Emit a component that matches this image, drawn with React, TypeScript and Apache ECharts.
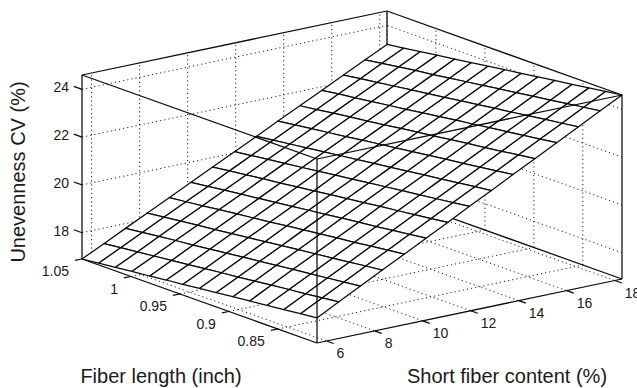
import React, { useEffect, useRef } from "react";
import * as echarts from "echarts";

// ---- data ----
const fiberLength = [0.81, 0.827, 0.844, 0.861, 0.879, 0.896, 0.913, 0.93, 0.947, 0.964, 0.981, 0.999, 1.016, 1.033, 1.05];
const shortFiber = [5.6, 6.51, 7.41, 8.32, 9.23, 10.14, 11.04, 11.95, 12.86, 13.76, 14.67, 15.58, 16.49, 17.39, 18.3];
// rows: fiberLength index, columns: shortFiber index
const unevenness = [
  [17.95, 18.43, 18.9, 19.38, 19.85, 20.33, 20.8, 21.28, 21.75, 22.23, 22.7, 23.18, 23.65, 24.13, 24.6],
  [17.88, 18.35, 18.82, 19.3, 19.77, 20.24, 20.71, 21.19, 21.66, 22.13, 22.61, 23.08, 23.55, 24.03, 24.5],
  [17.8, 18.27, 18.74, 19.21, 19.69, 20.16, 20.63, 21.1, 21.57, 22.04, 22.51, 22.99, 23.46, 23.93, 24.4],
  [17.73, 18.2, 18.66, 19.13, 19.6, 20.07, 20.54, 21.01, 21.48, 21.95, 22.42, 22.89, 23.36, 23.83, 24.3],
  [17.65, 18.12, 18.59, 19.05, 19.52, 19.99, 20.46, 20.93, 21.39, 21.86, 22.33, 22.8, 23.26, 23.73, 24.2],
  [17.58, 18.04, 18.51, 18.97, 19.44, 19.91, 20.37, 20.84, 21.3, 21.77, 22.24, 22.7, 23.17, 23.63, 24.1],
  [17.5, 17.96, 18.43, 18.89, 19.36, 19.82, 20.29, 20.75, 21.21, 21.68, 22.14, 22.61, 23.07, 23.54, 24.0],
  [17.43, 17.89, 18.35, 18.81, 19.28, 19.74, 20.2, 20.66, 21.13, 21.59, 22.05, 22.51, 22.98, 23.44, 23.9],
  [17.35, 17.81, 18.27, 18.73, 19.19, 19.65, 20.11, 20.58, 21.04, 21.5, 21.96, 22.42, 22.88, 23.34, 23.8],
  [17.28, 17.73, 18.19, 18.65, 19.11, 19.57, 20.03, 20.49, 20.95, 21.41, 21.86, 22.32, 22.78, 23.24, 23.7],
  [17.2, 17.66, 18.11, 18.57, 19.03, 19.49, 19.94, 20.4, 20.86, 21.31, 21.77, 22.23, 22.69, 23.14, 23.6],
  [17.13, 17.58, 18.04, 18.49, 18.95, 19.4, 19.86, 20.31, 20.77, 21.22, 21.68, 22.13, 22.59, 23.05, 23.5],
  [17.05, 17.5, 17.96, 18.41, 18.86, 19.32, 19.77, 20.23, 20.68, 21.13, 21.59, 22.04, 22.49, 22.95, 23.4],
  [16.98, 17.43, 17.88, 18.33, 18.78, 19.23, 19.69, 20.14, 20.59, 21.04, 21.49, 21.95, 22.4, 22.85, 23.3],
  [16.9, 17.35, 17.8, 18.25, 18.7, 19.15, 19.6, 20.05, 20.5, 20.95, 21.4, 21.85, 22.3, 22.75, 23.2],
];
const fiberTicks = [1.05, 1, 0.95, 0.9, 0.85];
const shortTicks = [6, 8, 10, 12, 14, 16, 18];
const cvTicks = [18, 20, 22, 24];
const fiberTitle = "Fiber length (inch)";
const shortTitle = "Short fiber content (%)";
const cvTitle = "Unevenness CV (%)";

// ---- layout (oblique view of the 3-D box, in view units) ----
const VIEW = { w: 637, h: 388, ox: 82, oy: 259, fdx: 235, fdy: 84, sdx: 305, sdy: -64, hdy: -184 };
const FONT = '"Liberation Sans", Arial, Helvetica, sans-serif';
const INK = "#0a0a0a";

const fMin = Math.min(...fiberLength);
const fMax = Math.max(...fiberLength);
const sMin = Math.min(...shortFiber);
const sMax = Math.max(...shortFiber);
const zMin = Math.min(...unevenness.map((r) => Math.min(...r)));
const zMax = Math.max(...unevenness.map((r) => Math.max(...r)));

function proj(f: number, s: number, z: number): number[] {
  const u = (fMax - f) / (fMax - fMin);
  const v = (s - sMin) / (sMax - sMin);
  const w = (z - zMin) / (zMax - zMin);
  return [VIEW.ox + u * VIEW.fdx + v * VIEW.sdx, VIEW.oy + u * VIEW.fdy + v * VIEW.sdy + w * VIEW.hdy];
}

type Seg = number[]; // f1,s1,z1,f2,s2,z2

function buildGridSegs(): Seg[] {
  const segs: Seg[] = [];
  // floor
  fiberTicks.forEach((f) => segs.push([f, sMin, zMin, f, sMax, zMin]));
  shortTicks.forEach((s) => segs.push([fMax, s, zMin, fMin, s, zMin]));
  // left wall (fiber = max)
  shortTicks.forEach((s) => segs.push([fMax, s, zMin, fMax, s, zMax]));
  cvTicks.forEach((z) => segs.push([fMax, sMin, z, fMax, sMax, z]));
  // back wall (short = max)
  fiberTicks.forEach((f) => segs.push([f, sMax, zMin, f, sMax, zMax]));
  cvTicks.forEach((z) => segs.push([fMin, sMax, z, fMax, sMax, z]));
  return segs;
}

const A = [fMax, sMin];
const B = [fMin, sMin];
const C = [fMin, sMax];
const D = [fMax, sMax];
const edge = (p: number[], zp: number, q: number[], zq: number): Seg => [p[0], p[1], zp, q[0], q[1], zq];

const backEdges: Seg[] = [
  edge(A, zMin, A, zMax),
  edge(A, zMax, D, zMax),
  edge(D, zMax, C, zMax),
  edge(C, zMin, C, zMax),
  edge(D, zMin, D, zMax),
  edge(A, zMin, D, zMin),
  edge(D, zMin, C, zMin),
];

function buildFrontSegs(): Seg[] {
  const segs: Seg[] = [
    edge(A, zMin, B, zMin),
    edge(B, zMin, C, zMin),
    edge(B, zMin, B, zMax),
    edge(A, zMax, B, zMax),
    edge(B, zMax, C, zMax),
  ];
  const fr = fMax - fMin;
  const sr = sMax - sMin;
  cvTicks.forEach((z) => segs.push([fMax, sMin, z, fMax + 0.035 * fr, sMin, z]));
  fiberTicks.forEach((f) => segs.push([f, sMin, zMin, f, sMin - 0.023 * sr, zMin]));
  shortTicks.forEach((s) => segs.push([fMin, s, zMin, fMin - 0.03 * fr, s, zMin]));
  return segs;
}

function lineSeries(segs: Seg[], z: number, style: any) {
  return {
    type: "custom",
    coordinateSystem: "cartesian2d",
    z,
    silent: true,
    data: segs.map((_, k) => [k, 0]),
    renderItem: (_p: any, api: any) => {
      const sg = segs[api.value(0)];
      const p1 = api.coord(proj(sg[0], sg[1], sg[2]));
      const p2 = api.coord(proj(sg[3], sg[4], sg[5]));
      return { type: "line", shape: { x1: p1[0], y1: p1[1], x2: p2[0], y2: p2[1] }, style };
    },
  };
}

function meshSeries() {
  const quads: number[][] = [];
  for (let i = 0; i < fiberLength.length - 1; i++) {
    for (let j = 0; j < shortFiber.length - 1; j++) quads.push([i, j]);
  }
  // painter's order: far (large fiber, large short) first
  quads.sort((a, b) => (b[1] - b[0]) - (a[1] - a[0]));
  return {
    type: "custom",
    coordinateSystem: "cartesian2d",
    z: 3,
    silent: true,
    data: quads,
    renderItem: (_p: any, api: any) => {
      const i = api.value(0);
      const j = api.value(1);
      const corners = [
        [i, j],
        [i + 1, j],
        [i + 1, j + 1],
        [i, j + 1],
      ].map(([a, b]) => api.coord(proj(fiberLength[a], shortFiber[b], unevenness[a][b])));
      return {
        type: "polygon",
        shape: { points: corners },
        style: { fill: "#fff", stroke: INK, lineWidth: 1.25, lineJoin: "round" },
      };
    },
  };
}

type Lbl = { text: string; f: number; s: number; z: number; dx: number; dy: number; align: string; size: number; rot?: number; view?: number[] };

function buildLabels(): Lbl[] {
  const L: Lbl[] = [];
  cvTicks.forEach((z) => L.push({ text: String(z), f: fMax, s: sMin, z, dx: -13, dy: -2, align: "right", size: 14 }));
  fiberTicks.forEach((f) => L.push({ text: String(f), f, s: sMin, z: zMin, dx: -13, dy: 12, align: "right", size: 14 }));
  shortTicks.forEach((s) => L.push({ text: String(s), f: fMin, s, z: zMin, dx: 10, dy: 12, align: "left", size: 14 }));
  L.push({ text: fiberTitle, f: 0, s: 0, z: 0, dx: 0, dy: 0, align: "center", size: 20, view: [161, 376] });
  L.push({ text: shortTitle, f: 0, s: 0, z: 0, dx: 0, dy: 0, align: "center", size: 20, view: [507, 376] });
  L.push({ text: cvTitle, f: 0, s: 0, z: 0, dx: 0, dy: 0, align: "center", size: 20, rot: Math.PI / 2, view: [18, 172] });
  return L;
}

function labelSeries(labels: Lbl[]) {
  return {
    type: "custom",
    coordinateSystem: "cartesian2d",
    z: 5,
    silent: true,
    data: labels.map((_, k) => [k, 0]),
    renderItem: (_p: any, api: any) => {
      const l = labels[api.value(0)];
      const p = api.coord(l.view ? l.view : proj(l.f, l.s, l.z));
      return {
        type: "text",
        x: p[0] + l.dx,
        y: p[1] + l.dy,
        rotation: l.rot || 0,
        style: {
          text: l.text,
          fill: "#1a1a1a",
          font: `${l.size}px ${FONT}`,
          align: l.align,
          textAlign: l.align,
          verticalAlign: "middle",
          textVerticalAlign: "middle",
        },
      };
    },
  };
}

export default function App() {
  const ref = useRef<HTMLDivElement>(null);
  useEffect(() => {
    if (!ref.current) return;
    const chart = echarts.init(ref.current, null, { renderer: "svg" });
    const dotted = { stroke: "#222", lineWidth: 1, lineDash: [1.2, 3] };
    const solid = { stroke: INK, lineWidth: 1.25 };
    chart.setOption({
      animation: false,
      backgroundColor: "#fff",
      grid: { left: 0, right: 0, top: 0, bottom: 0 },
      xAxis: { type: "value", min: 0, max: VIEW.w, show: false },
      yAxis: { type: "value", min: 0, max: VIEW.h, inverse: true, show: false },
      series: [
        lineSeries(buildGridSegs(), 1, dotted),
        lineSeries(backEdges, 2, solid),
        meshSeries(),
        lineSeries(buildFrontSegs(), 4, solid),
        labelSeries(buildLabels()),
      ],
    });
    return () => chart.dispose();
  }, []);
  return <div ref={ref} style={{ position: "absolute", left: 0, top: 0, width: VIEW.w, height: VIEW.h }} />;
}
